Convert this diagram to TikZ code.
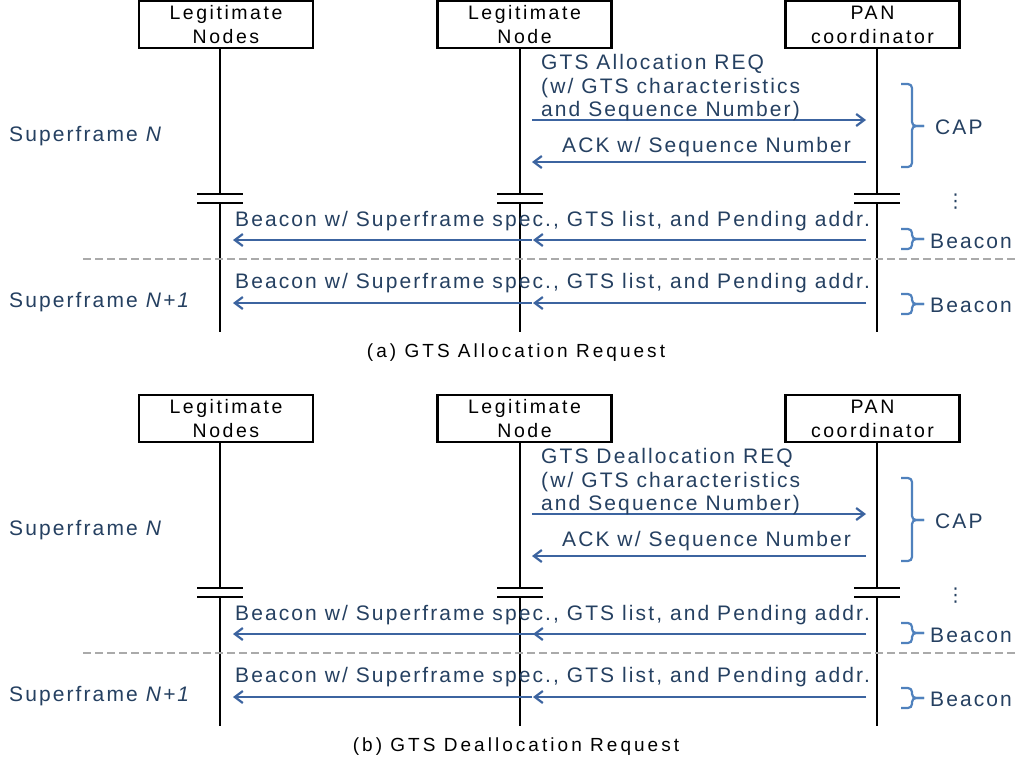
\documentclass[tikz,border=0pt]{standalone}
\usepackage{fontspec}
\setmainfont{Liberation Sans}[LetterSpace=10]
\newfontfamily\boxfont{Liberation Sans}[LetterSpace=13]
\newfontfamily\capfont{Liberation Sans}[LetterSpace=16]
\newfontfamily\dejavu{DejaVu Sans}
\usetikzlibrary{arrows.meta}
\definecolor{txtblue}{RGB}{37,64,97}
\definecolor{arrblue}{RGB}{60,100,160}
\definecolor{brblue}{RGB}{79,129,189}
\definecolor{dashgray}{RGB}{170,170,170}
\tikzset{
  boxst/.style={draw=black, line width=2.2pt, minimum width=174pt, minimum height=47pt,
    inner sep=0pt, align=center, font=\boxfont\fontsize{19.5}{24}\selectfont, text=black},
  life/.style={draw=black, line width=2.4pt},
  brk/.style={draw=black, line width=2.4pt},
  msg/.style={draw=arrblue, line width=2.2pt, -{Straight Barb[length=8pt,width=12pt]}},
  lbl/.style={inner sep=0pt, text=txtblue, font=\fontsize{21}{23.5}\selectfont},
  brc/.style={draw=brblue, line width=2.2pt, rounded corners=4pt},
  sepline/.style={draw=dashgray, line width=2pt, dash pattern=on 8pt off 4pt},
  capst/.style={inner sep=0pt, text=black, font=\capfont\fontsize{19}{20}\selectfont}
}
\newcommand\sqbrace[3]{%
  \draw[brc] (#1) -| (912,#3) -- (924,#3);
  \draw[brc] (#2) -| (912,#3) -- (924,#3);
}
\newcommand\gtspanel[4]{%
  % boxes
  \node[boxst] (#1n1) at (226,24.5) {Legitimate\\Nodes};
  \node[boxst] (#1n2) at (524.5,24.5) {Legitimate\\Node};
  \node[boxst] (#1n3) at (872.5,24.5) {PAN\\coordinator};
  % lifelines with break marks
  \foreach \i/\x in {1/220,2/520,3/877}{
    \coordinate (#1t\i) at (\x,48);
    \coordinate (#1ba\i) at (\x,194);
    \coordinate (#1bb\i) at (\x,203);
    \coordinate (#1e\i) at (\x,332);
    \draw[life] (#1t\i) -- (#1ba\i);
    \draw[life] (#1bb\i) -- (#1e\i);
    \draw[brk] ([xshift=-23pt]#1ba\i) -- ([xshift=23pt]#1ba\i);
    \draw[brk] ([xshift=-23pt]#1bb\i) -- ([xshift=23pt]#1bb\i);
  }
  % request / ack
  \coordinate (#1rqs) at (532,120);
  \coordinate (#1rqe) at (866,120);
  \coordinate (#1aks) at (866,162);
  \coordinate (#1ake) at (532,162);
  \draw[msg] (#1rqs) -- (#1rqe);
  \draw[msg] (#1aks) -- (#1ake);
  \node[lbl, anchor=west, align=left] (#1rqt) at (541,88)
    {GTS #2 REQ\\(w/ GTS characteristics\\and Sequence Number)};
  \node[lbl, anchor=west] (#1akt) at (562,147) {ACK w/ Sequence Number};
  % beacons
  \coordinate (#1b1s) at (866,240);
  \coordinate (#1b1m) at (533,240);
  \coordinate (#1b1n) at (#3,240);
  \coordinate (#1b1e) at (233,240);
  \draw[msg] (#1b1s) -- (#1b1m);
  \draw[msg] (#1b1n) -- (#1b1e);
  \node[lbl, anchor=west] (#1b1t) at (235,221) {Beacon w/ Superframe spec., GTS list, and Pending addr.};
  \coordinate (#1b2s) at (866,303);
  \coordinate (#1b2m) at (533,303);
  \coordinate (#1b2n) at (532,303);
  \coordinate (#1b2e) at (233,303);
  \draw[msg] (#1b2s) -- (#1b2m);
  \draw[msg] (#1b2n) -- (#1b2e);
  \node[lbl, anchor=west] (#1b2t) at (235,283) {Beacon w/ Superframe spec., GTS list, and Pending addr.};
  % braces
  \coordinate (#1c1) at (901,84);
  \coordinate (#1c2) at (901,167);
  \sqbrace{#1c1}{#1c2}{126}
  \node[lbl, anchor=west] (#1capl) at (935,127) {CAP};
  \coordinate (#1d1) at (901,229);
  \coordinate (#1d2) at (901,249);
  \sqbrace{#1d1}{#1d2}{239}
  \node[lbl, anchor=west] (#1bl1) at (930,241) {Beacon};
  \coordinate (#1f1) at (901,294);
  \coordinate (#1f2) at (901,314);
  \sqbrace{#1f1}{#1f2}{304}
  \node[lbl, anchor=west] (#1bl2) at (930,305) {Beacon};
  \node[inner sep=0pt, text=txtblue, font=\dejavu\fontsize{19}{19}\selectfont] (#1dots) at (955.5,201.5) {⋮};
  % separator
  \coordinate (#1s1) at (83,259);
  \coordinate (#1s2) at (1015,259);
  \draw[sepline] (#1s1) -- (#1s2);
  % superframe labels
  \node[lbl, anchor=west] (#1sfn) at (9,136) {Superframe \textit{N}};
  \node[lbl, anchor=west] (#1sfm) at (9,302) {Superframe \textit{N+1}};
  % caption
  \node[capst] (#1cap) at (516,353) {#4};
}
\begin{document}
\begin{tikzpicture}[x=1pt,y=-1pt]
\useasboundingbox[fill=white] (0,0) rectangle (1015,764);
\gtspanel{a}{Allocation}{532}{(a) GTS Allocation Request}
\begin{scope}[yshift=-394pt]
\gtspanel{b}{Deallocation}{567}{(b) GTS Deallocation Request}
\end{scope}
\end{tikzpicture}
\end{document}
